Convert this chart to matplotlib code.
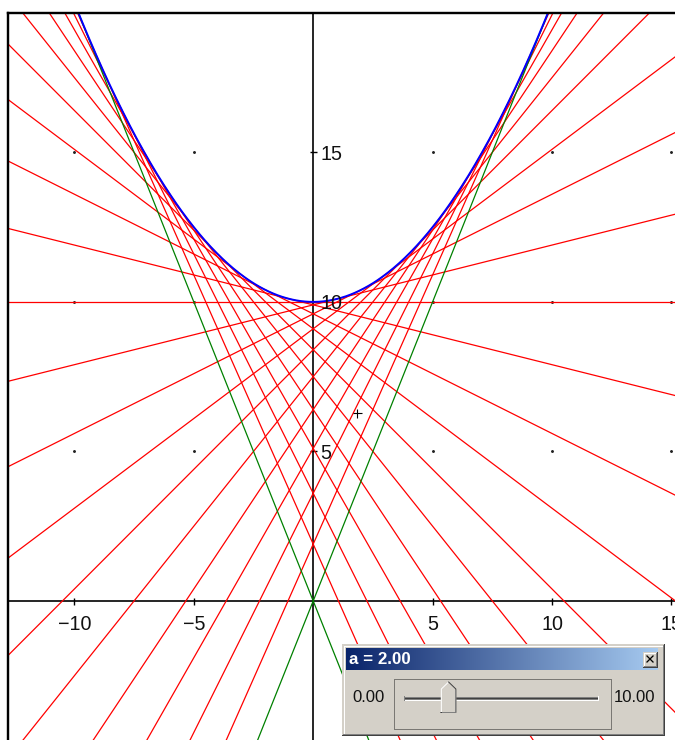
import numpy as np
import matplotlib
matplotlib.use("Agg")
import matplotlib.pyplot as plt
from matplotlib.patches import Rectangle, Polygon
from matplotlib.colors import LinearSegmentedColormap

plt.rcParams['font.family'] = ['Liberation Sans', 'DejaVu Sans']

# ---- data ----
vertex_y = 10.0          # parabola y = vertex_y + curv * x^2
curv = 0.1
red_tangent_x = [-9, -8, -7, -6, -5, -4, -3, -2, -1, 0, 1, 2, 3, 4, 5, 6, 7, 8, 9]
green_slopes = [-2.0, 2.0]       # lines through origin
x_tick_vals = [-10, -5, 5, 10, 15]
x_tick_labels = ["\u221210", "\u22125", "5", "10", "15"]
y_tick_vals = [5, 10, 15]
y_tick_labels = ["5", "10", "15"]
grid_x = [-10, -5, 5, 10, 15]
grid_y = [5, 10, 15]
cursor_pt = (1.83, 6.3)
slider_value = 2.00
slider_min, slider_max = 0.00, 10.00

W, H = 675, 740
fig = plt.figure(figsize=(W / 100, H / 100), dpi=100)
ax = fig.add_axes([8 / W, 0, (W - 8) / W, (H - 13) / H])
ax.set_xlim(-12.78, 15.15)
ax.set_ylim(-4.65, 19.66)
ax.axis('off')

PX = 0.72  # points per pixel

# axes lines
ax.axhline(0, color='k', lw=1.2, zorder=1)
ax.axvline(0, color='k', lw=1.2, zorder=1)
# ticks
ax.plot(x_tick_vals, [0] * len(x_tick_vals), ls='none', marker='|', ms=7 * PX, mew=1.0, color='k', zorder=1)
ax.plot([0] * len(y_tick_vals), y_tick_vals, ls='none', marker='_', ms=7 * PX, mew=1.0, color='k', zorder=1)
for v, lab in zip(x_tick_vals, x_tick_labels):
    ax.annotate(lab, (v, 0), xytext=(0, -29 * PX), textcoords='offset points',
                ha='center', va='baseline', fontsize=14.2, color='#111111', zorder=6,
                annotation_clip=False)
for v, lab in zip(y_tick_vals, y_tick_labels):
    ax.annotate(lab, (0, v), xytext=(7.4 * PX, -7.3 * PX), textcoords='offset points',
                ha='left', va='baseline', fontsize=14.2, color='#111111', zorder=6)
# grid dots
gx, gy = np.meshgrid(grid_x, grid_y)
ax.plot(gx.ravel(), gy.ravel(), ls='none', marker='o', ms=1.1, color='#222222', zorder=1)

# tangent lines
for t in red_tangent_x:
    slope = 2 * curv * t
    y0 = vertex_y + curv * t * t
    ax.axline((t, y0), slope=slope, color='#FF0000', lw=0.9, zorder=2)
for m in green_slopes:
    ax.axline((0, 0), slope=m, color='#008000', lw=0.9, zorder=3)

# parabola
xs = np.linspace(-13, 15.5, 600)
ax.plot(xs, vertex_y + curv * xs ** 2, color='#0000FF', lw=1.4, zorder=4)

# cursor cross
ax.plot([cursor_pt[0]], [cursor_pt[1]], marker='+', ms=9 * PX, mew=0.8, color='k', zorder=5)

# frame (left & top)
ax.plot([0, 0], [0, 1], transform=ax.transAxes, color='k', lw=2.4 * PX, clip_on=False, zorder=7)
ax.plot([0, 1], [1, 1], transform=ax.transAxes, color='k', lw=2.4 * PX, clip_on=False, zorder=7)

# ---- slider widget in pixel coordinates ----
ov = fig.add_axes([0, 0, 1, 1])
ov.set_xlim(0, W)
ov.set_ylim(H, 0)
ov.axis('off')

face = '#D4D0C8'
dark = '#404040'
mid = '#808080'
L, T, R, B = 342, 644, 664, 735
ov.add_patch(Rectangle((L, T), R - L, B - T, facecolor=face, edgecolor='none', zorder=1))
# raised border
ov.plot([L + 0.5, R - 0.5], [T + 0.5, T + 0.5], color=face, lw=PX, zorder=2)
ov.plot([L + 0.5, L + 0.5], [T + 0.5, B - 0.5], color=face, lw=PX, zorder=2)
ov.plot([L + 1.5, R - 1.5], [T + 1.5, T + 1.5], color='white', lw=PX, zorder=2)
ov.plot([L + 1.5, L + 1.5], [T + 1.5, B - 1.5], color='white', lw=PX, zorder=2)
ov.plot([L, R], [B - 0.5, B - 0.5], color=dark, lw=PX, zorder=2)
ov.plot([R - 0.5, R - 0.5], [T, B], color=dark, lw=PX, zorder=2)
ov.plot([L + 1, R - 1], [B - 1.5, B - 1.5], color=mid, lw=PX, zorder=2)
ov.plot([R - 1.5, R - 1.5], [T + 1, B - 1], color=mid, lw=PX, zorder=2)

# title bar gradient
cmap = LinearSegmentedColormap.from_list('tb', ['#0A246A', '#A6CAF0'])
grad = np.linspace(0, 1, 256).reshape(1, -1)
ov.imshow(grad, cmap=cmap, extent=(346, 658, 670, 648), aspect='auto', zorder=2, interpolation='bilinear')
ov.set_xlim(0, W)
ov.set_ylim(H, 0)
ov.text(349, 659.5, f"a = {slider_value:.2f}", color='white', fontweight='bold', fontsize=12.2,
        ha='left', va='center', zorder=3)

# close button
cl, ct, cr, cb = 643, 652, 657, 667
ov.add_patch(Rectangle((cl, ct), cr - cl, cb - ct, facecolor=face, edgecolor='none', zorder=3))
ov.plot([cl + 0.5, cr - 0.5], [ct + 0.5, ct + 0.5], color='white', lw=PX, zorder=4)
ov.plot([cl + 0.5, cl + 0.5], [ct + 0.5, cb - 0.5], color='white', lw=PX, zorder=4)
ov.plot([cl, cr], [cb - 0.5, cb - 0.5], color=dark, lw=PX, zorder=4)
ov.plot([cr - 0.5, cr - 0.5], [ct, cb], color=dark, lw=PX, zorder=4)
ov.plot([cl + 1, cr - 1], [cb - 1.5, cb - 1.5], color=mid, lw=PX, zorder=4)
ov.plot([cr - 1.5, cr - 1.5], [ct + 1, cb - 1], color=mid, lw=PX, zorder=4)
ov.plot([647, 653], [656, 662], color='k', lw=1.3 * PX, zorder=4)
ov.plot([647, 653], [662, 656], color='k', lw=1.3 * PX, zorder=4)

# labels
ov.text(352, 697.5, f"{slider_min:.2f}", color='#111111', fontsize=12, ha='left', va='center', zorder=3)
ov.text(614, 697.5, f"{slider_max:.2f}", color='#111111', fontsize=12, ha='left', va='center', zorder=3)

# dotted focus rectangle
ov.add_patch(Rectangle((393.5, 678.5), 217, 50, facecolor='none', edgecolor='#222222',
                       lw=PX, linestyle=(0, (1, 1)), zorder=3))

# track groove
tl, tr_ = 404, 598
ov.plot([tl, tr_], [696.5, 696.5], color=mid, lw=PX, zorder=3)
ov.plot([tl + 1, tr_ - 1], [697.5, 697.5], color=dark, lw=PX, zorder=3)
ov.plot([tl + 1, tr_ - 1], [698.5, 698.5], color=mid, lw=PX, zorder=3)
ov.plot([tl, tr_], [699.5, 699.5], color='white', lw=PX, zorder=3)
ov.plot([tl, tl], [696, 700], color=mid, lw=PX, zorder=3)
ov.plot([tr_, tr_], [696, 700], color='white', lw=PX, zorder=3)

# thumb
frac = (slider_value - slider_min) / (slider_max - slider_min)
cx = tl + 8 + frac * (tr_ - tl - 16) + 1
hw = 7.75
thumb = [(cx - hw, 713), (cx - hw, 689), (cx, 681.5), (cx + hw, 689), (cx + hw, 713)]
ov.add_patch(Polygon(thumb, closed=True, facecolor=face, edgecolor='none', zorder=4))
ov.plot([cx - hw + 0.5, cx - hw + 0.5, cx], [712.5, 689, 682], color='white', lw=PX, zorder=5)
ov.plot([cx, cx + hw - 0.5, cx + hw - 0.5, cx - hw], [682, 689, 712.5, 712.5], color=dark, lw=PX, zorder=5)
ov.plot([cx + hw - 1.5, cx + hw - 1.5, cx - hw + 1], [690, 711.5, 711.5], color=mid, lw=PX, zorder=5)

fig.savefig('out.png', dpi=100)
